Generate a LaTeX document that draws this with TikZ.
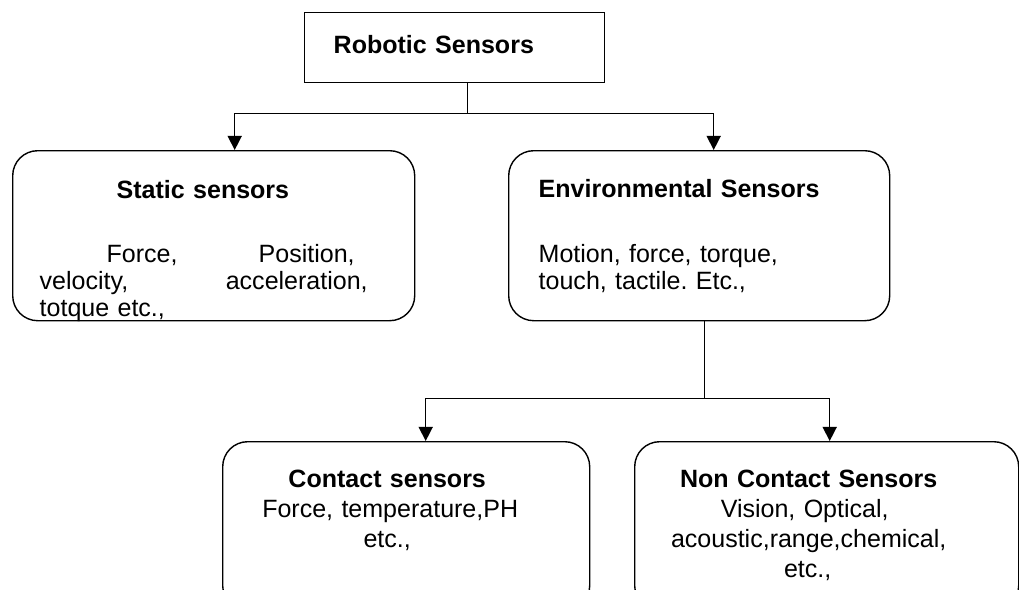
\documentclass[tikz,border=0pt]{standalone}
\usepackage{fontspec}
\setmainfont{Liberation Sans}
\usetikzlibrary{arrows.meta}
\newcommand\wordgap{\hskip0pt plus1filll\relax}
\frenchspacing
\begin{document}
\begin{tikzpicture}[
  box/.style={draw, line width=1pt, inner ysep=0pt, anchor=north west,
    font=\fontsize{17.8pt}{19.2pt}\selectfont},
  roundbox/.style={box, rounded corners=0.625cm},
  lowbox/.style={roundbox, align=center, inner xsep=0.3cm,
    text height=1.15cm, text depth=3.075cm,
    font=\fontsize{17.8pt}{21.3pt}\selectfont},
  link/.style={line width=1pt},
  arrow/.style={link, -{Triangle[length=10pt,width=10pt]}}
]
  \useasboundingbox (0,0) rectangle (25.475,-14.75);
  \clip (0,0) rectangle (25.475,-14.75);
  \node[box, align=left, text width=6.05cm, inner xsep=0.725cm,
    text height=1.025cm, text depth=0.725cm] (robot) at (7.6,-0.3)
    {\textbf{Robotic Sensors}};
  \node[roundbox, align=left, text width=8.7cm, inner xsep=0.675cm,
    text height=1.2cm, text depth=3.05cm] (static) at (0.3,-3.75)
    {\hspace*{1.925cm}\textbf{Static sensors}\\[0.925cm]
     \hspace*{1.675cm}Force,\wordgap Position,\kern0.825cm\\
     velocity,\wordgap acceleration,\kern0.5cm\\
     totque etc.,};
  \node[roundbox, align=left, text width=8.025cm, inner xsep=0.75cm,
    text height=1.175cm, text depth=3.075cm] (env) at (12.7,-3.75)
    {\textbf{Environmental Sensors}\\[0.95cm]
     Motion, force, torque,\\
     touch, tactile. Etc.,};
  \node[lowbox, text width=8.575cm] (contact) at (5.55,-11.025)
    {\textbf{Contact sensors}\kern0.95cm\\
     Force, temperature,PH\kern0.8cm\\
     etc.,\kern0.95cm};
  \node[lowbox, text width=9cm] (noncontact) at (15.85,-11.025)
    {\textbf{Non Contact Sensors}\kern0.9cm\\
     Vision, Optical,\kern1.1cm\\
     acoustic,range,chemical,\kern0.9cm\\
     etc.,\kern0.95cm};
  \draw[link] ([xshift=0.325cm]robot.south) -- ++(0,-0.75) coordinate (fork1);
  \draw[arrow] (fork1) -| ([xshift=0.525cm]static.north);
  \draw[arrow] (fork1) -| ([xshift=0.3625cm]env.north);
  \draw[link] ([xshift=0.1375cm]env.south) -- ++(0,-1.925) coordinate (fork2);
  \draw[arrow] (fork2) -| ([xshift=0.4875cm]contact.north);
  \draw[arrow] (fork2) -| ([xshift=0.075cm]noncontact.north);
\end{tikzpicture}
\end{document}
